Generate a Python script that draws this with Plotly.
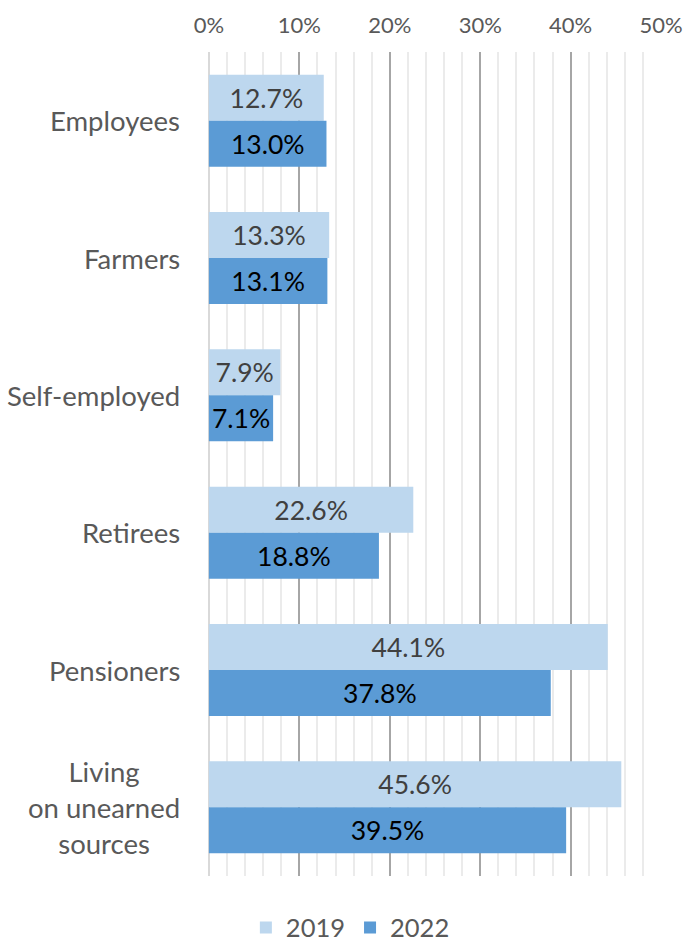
import plotly.graph_objects as go

categories = ["Employees", "Farmers", "Self-employed", "Retirees", "Pensioners",
              "Living<br>on unearned<br>sources"]
values_2019 = [12.7, 13.3, 7.9, 22.6, 44.1, 45.6]
values_2022 = [13.0, 13.1, 7.1, 18.8, 37.8, 39.5]
tick_vals = [0, 10, 20, 30, 40, 50]
tick_text = ["0%", "10%", "20%", "30%", "40%", "50%"]

FONT = "Lato"
fig = go.Figure()
fig.add_trace(go.Bar(
    y=categories, x=values_2019, name="2019", orientation="h",
    marker=dict(color="#BDD7EE", line=dict(width=0)),
    texttemplate="%{x:.1f}%", textposition="inside", insidetextanchor="middle",
    textangle=0, constraintext="none",
    textfont=dict(family=FONT, size=26.5, color="#404040"),
))
fig.add_trace(go.Bar(
    y=categories, x=values_2022, name="2022", orientation="h",
    marker=dict(color="#5B9BD5", line=dict(width=0)),
    texttemplate="%{x:.1f}%", textposition="inside", insidetextanchor="middle",
    textangle=0, constraintext="none",
    textfont=dict(family=FONT, size=26.5, color="#000000"),
))

for c in categories:
    fig.add_annotation(x=0, xref="paper", xshift=-26, xanchor="right",
                       y=c, yref="y", text=c, showarrow=False, align="center",
                       font=dict(family=FONT, size=27.5, color="#595959"))

fig.update_layout(
    width=687, height=943,
    margin=dict(l=208, r=25, t=52, b=67),
    paper_bgcolor="white", plot_bgcolor="white",
    barmode="group", bargap=0.33, bargroupgap=0,
    font=dict(family=FONT, color="#595959"),
    showlegend=True,
    legend=dict(orientation="h", x=0.51, xanchor="center", xref="container",
                y=0.016, yanchor="middle", yref="container",
                font=dict(family=FONT, size=25.5, color="#595959"),
                itemwidth=30, traceorder="normal"),
    xaxis=dict(range=[-0.1, 50.1], side="top", tickvals=tick_vals, ticktext=tick_text,
               automargin=False,
               showgrid=True, gridcolor="#A6A6A6", gridwidth=1.5,
               zeroline=True, zerolinecolor="#D9D9D9", zerolinewidth=1.5,
               minor=dict(dtick=2, showgrid=True, gridcolor="#EBEBEB", gridwidth=1.5),
               ticks="", ticklabelstandoff=14, showline=False,
               tickfont=dict(family=FONT, size=22, color="#595959")),
    yaxis=dict(autorange="reversed", showticklabels=False, showgrid=False,
               automargin=False, zeroline=False, showline=False),
)

fig.write_html("out.html", config={"displayModeBar": False},
               post_script="document.body.style.margin='0';document.body.style.overflow='hidden';")
